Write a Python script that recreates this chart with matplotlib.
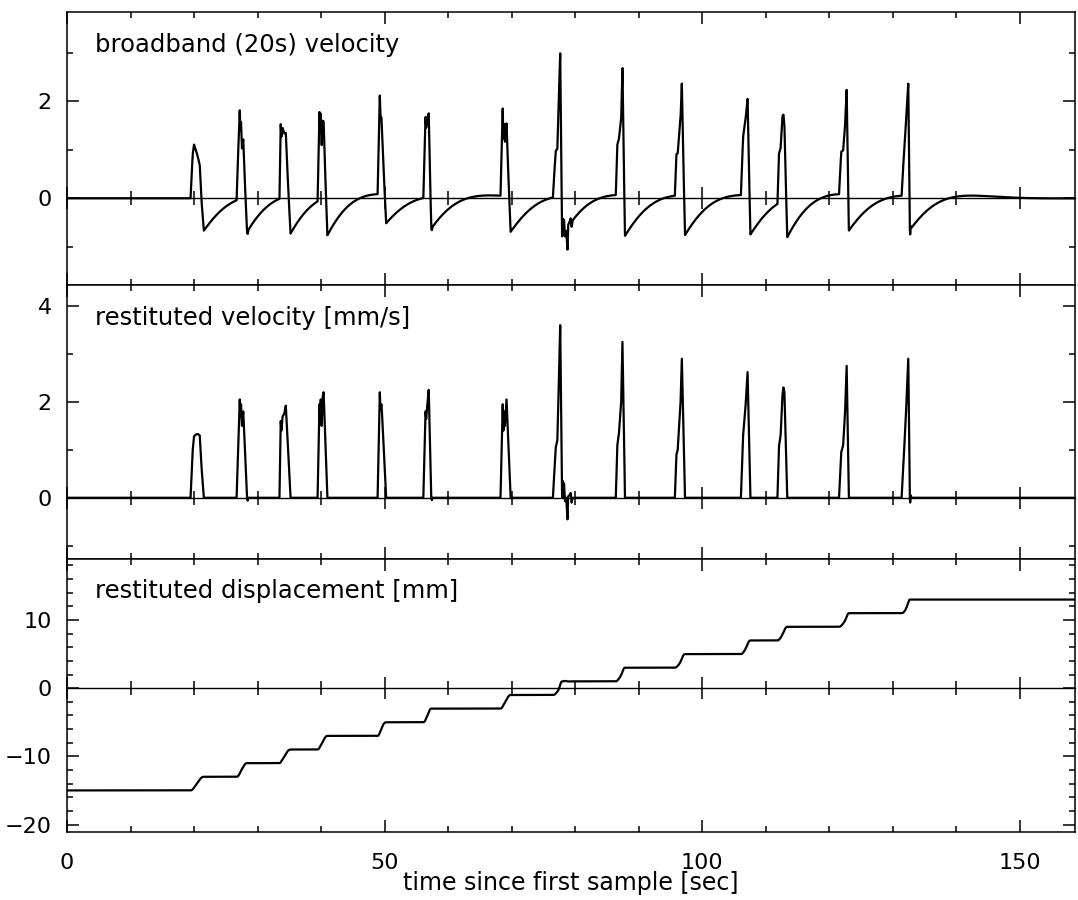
import numpy as np
import matplotlib.pyplot as plt
from matplotlib.ticker import MultipleLocator

# restituted velocity [mm/s], breakpoints (time [s], value)
pulses_t = [
    [19.45, 19.8, 20.0, 20.3, 20.6, 20.9, 21.2, 21.55],
    [26.7, 27.2, 27.3, 27.4, 27.55, 27.75, 28.35, 28.45, 28.55],
    [33.45, 33.65, 33.75, 33.95, 34.2, 34.45, 35.2],
    [39.45, 39.75, 39.85, 39.95, 40.1, 40.25, 40.4, 41.0],
    [48.9, 49.25, 49.35, 49.5, 49.6, 50.25],
    [56.1, 56.45, 56.55, 56.7, 56.95, 57.35, 57.45, 57.55],
    [68.25, 68.6, 68.7, 68.85, 68.95, 69.2, 69.85],
    [76.5, 76.95, 77.2, 77.45, 77.65, 77.7, 77.95, 78.05, 78.15, 78.25, 78.4,
     78.6, 78.8, 78.9, 79.1, 79.3, 79.45, 79.6],
    [86.4, 86.65, 86.9, 87.25, 87.45, 87.85],
    [95.7, 95.95, 96.15, 96.6, 96.8, 97.3],
    [106.1, 106.45, 106.85, 107.15, 107.6],
    [111.85, 112.1, 112.35, 112.65, 112.8, 112.95, 113.4],
    [121.55, 121.9, 122.2, 122.5, 122.75, 123.1],
    [131.4, 131.8, 132.1, 132.45, 132.7, 132.75, 132.85, 132.95],
]
pulses_v = [
    [0.0, 1.0, 1.28, 1.32, 1.33, 1.3, 0.6, 0.0],
    [0.0, 2.05, 1.7, 1.95, 1.5, 1.8, 0.0, -0.06, 0.0],
    [0.0, 1.6, 1.4, 1.7, 1.75, 1.92, 0.0],
    [0.0, 1.95, 1.6, 2.05, 1.5, 2.1, 2.2, 0.0],
    [0.0, 2.2, 1.85, 1.95, 1.75, 0.0],
    [0.0, 1.8, 1.65, 1.9, 2.25, 0.0, -0.05, 0.0],
    [0.0, 1.95, 1.4, 1.8, 1.5, 2.05, 0.0],
    [0.0, 1.05, 1.2, 2.5, 3.6, 3.0, 0.0, 0.35, 0.0, 0.3, -0.07,
     0.0, -0.45, 0.03, 0.05, 0.1, -0.1, 0.0],
    [0.0, 1.1, 1.35, 2.0, 3.25, 0.0],
    [0.0, 0.9, 1.0, 2.0, 2.9, 0.0],
    [0.0, 1.3, 1.95, 2.62, 0.0],
    [0.0, 1.08, 1.3, 2.15, 2.3, 2.2, 0.0],
    [0.0, 0.95, 1.1, 1.8, 2.75, 0.0],
    [0.0, 1.0, 1.8, 2.9, 0.0, -0.1, 0.05, 0.0],
]
# displacement plateaus [mm] between pulses
disp_levels = [-15, -13, -11, -9, -7, -5, -3, -1, 1, 3, 5, 7, 9, 11, 13]

t_end = 158.7
seis_period = 20.0
seis_damping = 0.707

vel_t = np.concatenate([[0.0]] + [np.array(p) for p in pulses_t] + [[t_end]])
vel_v = np.concatenate([[0.0]] + [np.array(p) for p in pulses_v] + [[0.0]])

# sampled trace for the instrument simulation and the integration
dt = 0.005
tt = np.arange(0, t_end + dt, dt)
vv = np.interp(tt, vel_t, vel_v)

# broadband = restituted velocity seen through a 20 s seismometer
w0 = 2 * np.pi / seis_period
z, zd = 0.0, 0.0
bb = np.zeros_like(vv)
for i, v in enumerate(vv):
    zdd = v - 2 * seis_damping * w0 * zd - w0**2 * z
    bb[i] = zdd
    zd += zdd * dt
    z += zd * dt

# displacement: plateaus joined by the integrated shape of each pulse
onsets = [p[0] for p in pulses_t] + [t_end + 1]
cum = np.concatenate([[0.0], np.cumsum(0.5 * (vv[1:] + vv[:-1]) * dt)])
disp = np.full_like(tt, float(disp_levels[0]))
for k in range(len(pulses_t)):
    m = (tt >= onsets[k]) & (tt < onsets[k + 1])
    seg = cum[m] - cum[m][0]
    disp[m] = disp_levels[k] + (disp_levels[k + 1] - disp_levels[k]) * seg / seg[-1]

plt.rcParams['font.family'] = ['DejaVu Sans']

fig = plt.figure(figsize=(10.78, 9.0), dpi=100)
gs = fig.add_gridspec(3, 1, left=67 / 1078, right=1075 / 1078,
                      top=1 - 12 / 900, bottom=1 - 832 / 900, hspace=0)
axs = [fig.add_subplot(gs[i]) for i in range(3)]

panels = [
    (tt, bb, 'broadband (20s) velocity', (-1.8, 3.85), 2, 1),
    (vel_t, vel_v, 'restituted velocity [mm/s]', (-1.27, 4.43), 2, 1),
    (tt, disp, 'restituted displacement [mm]', (-21.1, 19.0), 10, 2),
]

for ax, (x, y, title, ylim, ymaj, ymin) in zip(axs, panels):
    ax.plot(x, y, color='black', lw=1.6, zorder=3)
    ax.set_xlim(0, t_end)
    ax.set_ylim(*ylim)
    ax.xaxis.set_major_locator(MultipleLocator(50))
    ax.xaxis.set_minor_locator(MultipleLocator(10))
    ax.yaxis.set_major_locator(MultipleLocator(ymaj))
    ax.yaxis.set_minor_locator(MultipleLocator(ymin))
    ax.tick_params(which='both', direction='in', top=True, right=True,
                   width=1.1, labelsize=16, color='black')
    ax.tick_params(which='major', length=8.6)
    ax.tick_params(which='minor', length=4.5)
    ax.tick_params(axis='y', pad=11)
    ax.tick_params(axis='x', pad=15)
    for s in ax.spines.values():
        s.set_linewidth(1.1)
    ax.text(0.028, 0.88, title, transform=ax.transAxes, fontsize=17.5,
            ha='left', va='center')

    # zero line with its own ticks
    frac = (0 - ylim[0]) / (ylim[1] - ylim[0])
    sec = ax.secondary_xaxis(frac)
    sec.xaxis.set_major_locator(MultipleLocator(50))
    sec.xaxis.set_minor_locator(MultipleLocator(10))
    sec.tick_params(which='both', direction='inout', width=1.1,
                    labelbottom=False, labeltop=False)
    sec.tick_params(which='major', length=16)
    sec.tick_params(which='minor', length=10)
    for s in sec.spines.values():
        s.set_linewidth(1.0)

for ax in axs[:2]:
    ax.tick_params(labelbottom=False)

axs[2].set_xlabel('time since first sample [sec]', fontsize=17, labelpad=-1)

fig.savefig('out.png', dpi=100)
